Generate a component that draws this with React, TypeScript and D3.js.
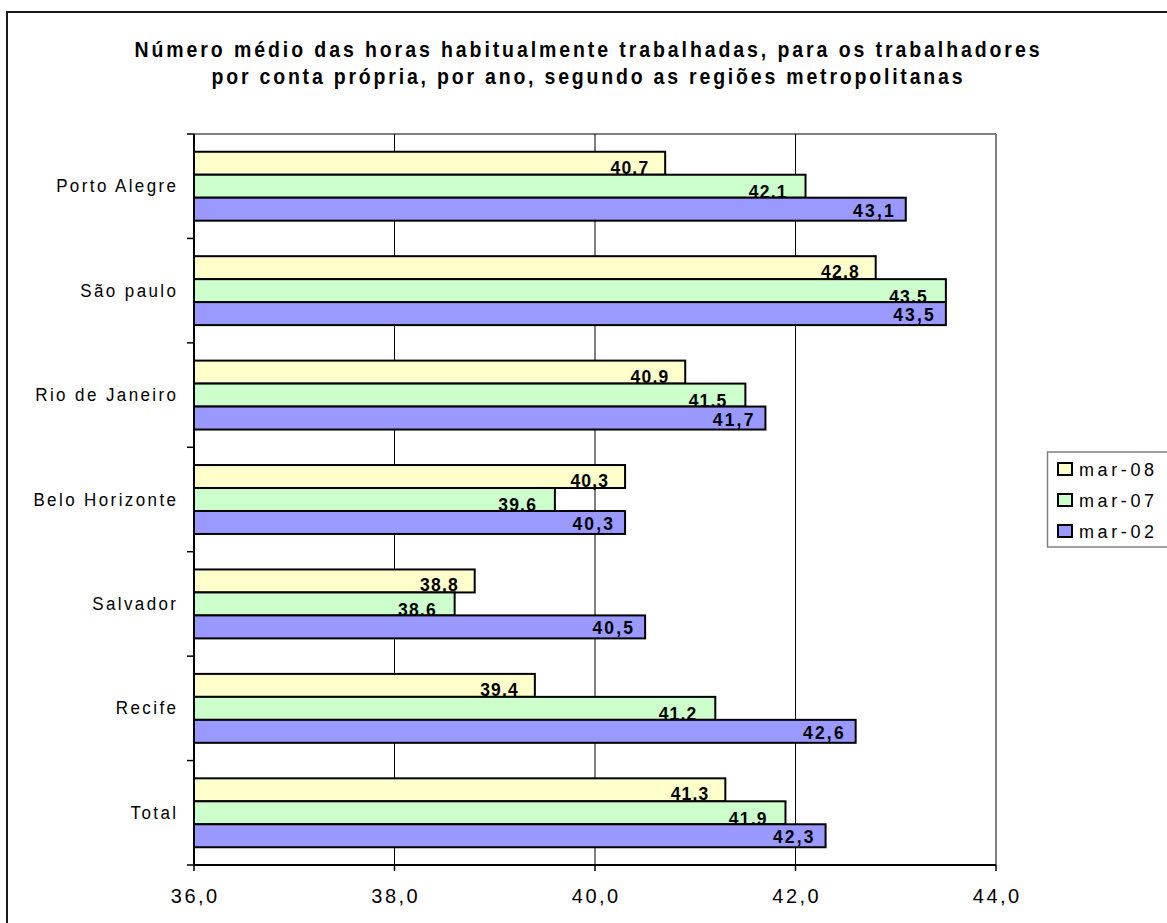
import React from "react";
import * as d3 from "d3";

// Metropolitan regions, top to bottom
const categories = [
  "Porto Alegre",
  "São paulo",
  "Rio de Janeiro",
  "Belo Horizonte",
  "Salvador",
  "Recife",
  "Total",
];

const seriesNames = ["mar-08", "mar-07", "mar-02"];

// Average usual weekly hours worked by the self-employed
const mar08 = [40.7, 42.8, 40.9, 40.3, 38.8, 39.4, 41.3];
const mar07 = [42.1, 43.5, 41.5, 39.6, 38.6, 41.2, 41.9];
const mar02 = [43.1, 43.5, 41.7, 40.3, 40.5, 42.6, 42.3];

const xTicks = [36, 38, 40, 42, 44];

const titleLines = [
  "Número médio das horas habitualmente trabalhadas, para os trabalhadores",
  "por conta própria, por ano, segundo as regiões metropolitanas",
];

const seriesValues = [mar08, mar07, mar02];
const fills = ["#FFFFCC", "#CCFFCC", "#9999FF"];

const FONT = "Arial, 'Liberation Sans', Helvetica, sans-serif";
const W = 1167;
const H = 923;

const plot = { left: 194, right: 996, top: 134, bottom: 865 };

const fmt = (v: number) => d3.format(".1f")(v).replace(".", ",");

// Per-series label placement inside the bar end
const labelStyle = [
  { endPad: 17, base: -1, ls: 1.2 },
  { endPad: 19, base: 0.5, ls: 1.2 },
  { endPad: 12, base: -4, ls: 2.2 },
];

export default function App() {
  const x = d3.scaleLinear().domain([36, 44]).range([plot.left, plot.right]);
  const y = d3
    .scaleBand<string>()
    .domain(categories)
    .range([plot.top, plot.bottom])
    .padding(0);
  const step = y.step();
  const groupH = step * 0.66;
  const inner = d3
    .scaleBand<string>()
    .domain(seriesNames)
    .range([0, groupH])
    .padding(0);

  const bandEdges = d3.range(categories.length + 1).map((i) => plot.top + i * step);

  return (
    <svg
      width={W}
      height={H}
      style={{ position: "absolute", left: 0, top: 0, background: "#fff" }}
      fontFamily={FONT}
    >
      {/* chart frame */}
      <rect x={7} y={12} width={W + 10} height={H + 10} fill="#fff" stroke="#1a1a1a" strokeWidth={2} />

      {/* title */}
      {titleLines.map((t, i) => (
        <text
          key={i}
          transform={`translate(587,${57 + i * 27}) scale(1,1.12)`}
          textAnchor="middle"
          fontSize={19.5}
          fontWeight="bold"
          textLength={i === 0 ? 905 : 751}
          lengthAdjust="spacing"
          fill="#000"
        >
          {t}
        </text>
      ))}

      {/* plot area top/right edges */}
      <line x1={plot.left} x2={plot.right} y1={plot.top} y2={plot.top} stroke="#808080" strokeWidth={2} />
      <line x1={plot.right} x2={plot.right} y1={plot.top} y2={plot.bottom} stroke="#808080" strokeWidth={2} />

      {/* vertical gridlines */}
      {xTicks
        .filter((t) => t !== 36 && t !== 44)
        .map((t) => (
          <line key={t} x1={x(t)} x2={x(t)} y1={plot.top} y2={plot.bottom} stroke="#000" strokeWidth={1} />
        ))}

      {/* bars and their value labels, series by series */}
      {seriesNames.map((s, si) => (
        <g key={s}>
          {categories.map((c, ci) => {
            const y0 = (y(c) as number) + (step - groupH) / 2 + (inner(s) as number);
            return (
              <rect
                key={c}
                x={x(36)}
                y={y0}
                width={x(seriesValues[si][ci]) - x(36)}
                height={inner.bandwidth()}
                fill={fills[si]}
                stroke="#000"
                strokeWidth={2}
              />
            );
          })}
          {categories.map((c, ci) => {
            const y0 = (y(c) as number) + (step - groupH) / 2 + (inner(s) as number);
            const st = labelStyle[si];
            const v = seriesValues[si][ci];
            return (
              <text
                key={c}
                x={x(v) - st.endPad + st.ls}
                y={y0 + inner.bandwidth() + st.base}
                textAnchor="end"
                fontSize={17.5}
                fontWeight="bold"
                letterSpacing={st.ls}
                fill="#000"
              >
                {fmt(v)}
              </text>
            );
          })}
        </g>
      ))}

      {/* category axis */}
      <line x1={plot.left} x2={plot.left} y1={plot.top} y2={plot.bottom} stroke="#000" strokeWidth={2} />
      {bandEdges.map((e, i) => (
        <line key={i} x1={plot.left - 7} x2={plot.left} y1={e} y2={e} stroke="#000" strokeWidth={1.5} />
      ))}
      {categories.map((c) => (
        <text
          key={c}
          transform={`translate(${176 + 2.4},${(y(c) as number) + step / 2 + 6}) scale(1,1.12)`}
          textAnchor="end"
          fontSize={17}
          letterSpacing={2.4}
          fill="#000"
        >
          {c}
        </text>
      ))}

      {/* value axis */}
      <line x1={plot.left} x2={plot.right} y1={plot.bottom} y2={plot.bottom} stroke="#000" strokeWidth={2} />
      {xTicks.map((t) => (
        <g key={t}>
          <line x1={x(t)} x2={x(t)} y1={plot.bottom} y2={plot.bottom + 6} stroke="#000" strokeWidth={1.5} />
          <text
            transform={`translate(${x(t) + 1.25},903) scale(1,1.05)`}
            textAnchor="middle"
            fontSize={20}
            letterSpacing={2.5}
            fill="#000"
          >
            {fmt(t)}
          </text>
        </g>
      ))}

      {/* legend */}
      <rect x={1047.5} y={452} width={130} height={95} fill="#fff" stroke="#808080" strokeWidth={1.5} />
      {seriesNames.map((s, i) => (
        <g key={s} transform={`translate(0,${469 + i * 31})`}>
          <rect x={1058} y={-6} width={14} height={12} fill={fills[i]} stroke="#000" strokeWidth={2} />
          <text x={1079} y={7} fontSize={18} letterSpacing={3.6} fill="#000">
            {s}
          </text>
        </g>
      ))}
    </svg>
  );
}
